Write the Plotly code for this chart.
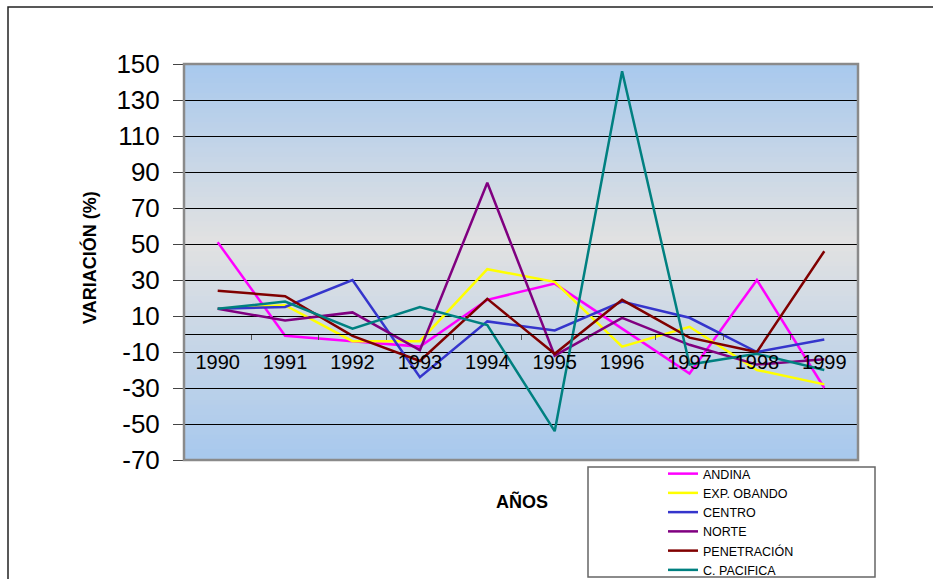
import plotly.graph_objects as go

# Data
years = ["1990", "1991", "1992", "1993", "1994", "1995", "1996", "1997", "1998", "1999"]
andina = [51, -1, -4, -7, 19, 28, 3, -22, 30, -30]
exp_obando = [14, 16, -4, -4, 36, 29, -7, 4, -20, -28]
centro = [14, 15, 30, -24, 7, 2, 18, 9, -10, -3]
norte = [14, 7.5, 12, -9, 84, -12, 9, -6, -17, -14]
penetracion = [24, 21, -1, -15, 19.5, -11, 19, -2, -10, 46]
c_pacifica = [14, 18, 3, 15, 5, -54, 146, -17, -11, -20]

# y tick values and labels (plain hyphen like the original)
y_ticks = [-70, -50, -30, -10, 10, 30, 50, 70, 90, 110, 130, 150]
y_labels = ["-70", "-50", "-30", "-10", "10", "30", "50", "70", "90", "110", "130", "150"]

series = [
    ("ANDINA", andina, "#FF00FF"),
    ("EXP. OBANDO", exp_obando, "#FFFF00"),
    ("CENTRO", centro, "#3535CC"),
    ("NORTE", norte, "#800080"),
    ("PENETRACIÓN", penetracion, "#800000"),
    ("C. PACIFICA", c_pacifica, "#008080"),
]

font = "Arial, Liberation Sans, sans-serif"
W, H = 933, 579
L, R, T, B = 184, 75, 64, 119
pw, ph = W - L - R, H - T - B


def px_x(x):
    return (x - L) / pw


def px_y(y):
    return (H - B - y) / ph


fig = go.Figure()
for name, vals, col in series:
    fig.add_trace(go.Scatter(x=years, y=vals, name=name, mode="lines",
                             line=dict(color=col, width=2.5)))

# background gradient (blue -> grey -> blue) as thin stripes
top, mid, bot = (168, 201, 238), (226, 226, 226), (168, 201, 238)
n = 80
shapes = []
for i in range(n):
    f = (i + 0.5) / n  # from top
    if f < 0.45:
        t = f / 0.45
        c = [a + (b - a) * t for a, b in zip(top, mid)]
    else:
        t = (f - 0.45) / 0.55
        c = [a + (b - a) * t for a, b in zip(mid, bot)]
    shapes.append(dict(type="rect", xref="paper", yref="paper", x0=0, x1=1,
                       y0=1 - (i + 1) / n, y1=1 - i / n + 0.002, layer="below",
                       line=dict(width=0),
                       fillcolor="rgb(%d,%d,%d)" % tuple(int(v) for v in c)))
# plot border
shapes.append(dict(type="rect", xref="paper", yref="paper", x0=0, x1=1, y0=0, y1=1,
                   line=dict(color="#8a8a8a", width=2.5), layer="above"))
# outer chart border
shapes.append(dict(type="rect", xref="paper", yref="paper",
                   x0=px_x(8), x1=px_x(945), y0=px_y(595), y1=px_y(7),
                   line=dict(color="#222222", width=1.5)))
# legend box
shapes.append(dict(type="rect", xref="paper", yref="paper",
                   x0=px_x(588), x1=px_x(875), y0=px_y(577), y1=px_y(467),
                   line=dict(color="#666666", width=1.5)))

fig.update_layout(
    width=W, height=H,
    margin=dict(l=L, r=R, t=T, b=B, autoexpand=False),
    paper_bgcolor="white",
    plot_bgcolor="#e2e2e2",
    font=dict(family=font, color="black"),
    shapes=shapes,
    legend=dict(x=px_x(663), y=px_y(459), xanchor="left", yanchor="top",
                font=dict(size=12.5, family=font), bgcolor="rgba(0,0,0,0)",
                tracegroupgap=0),
    annotations=[
        dict(text="<b>AÑOS</b>", x=px_x(522), y=px_y(502), xref="paper", yref="paper",
             xanchor="center", yanchor="middle", showarrow=False,
             font=dict(size=18, family=font)),
        dict(text="<b>VARIACIÓN (%)</b>", x=px_x(89), y=px_y(258), xref="paper",
             yref="paper", xanchor="center", yanchor="middle", showarrow=False,
             textangle=-90, font=dict(size=18, family=font)),
    ],
)

fig.update_xaxes(
    type="category", range=[-0.5, 9.5],
    anchor="free", position=70 / 220,
    showline=True, linecolor="black", linewidth=1,
    ticks="outside", tickson="boundaries", ticklen=5, tickcolor="#555555",
    ticklabelstandoff=10,
    showgrid=False, tickfont=dict(size=20, family=font),
)
fig.update_yaxes(
    range=[-70, 150], tickmode="array", tickvals=y_ticks, ticktext=y_labels,
    showgrid=True, gridcolor="black", gridwidth=1, zeroline=False,
    showline=True, linecolor="#444444", linewidth=1,
    ticks="outside", ticklen=10, tickcolor="#444444", ticklabelstandoff=8,
    tickfont=dict(size=26, family=font),
)

# page body has a default 8px margin; remove it so the figure fills the window
fig.write_html("out.html", config={"displayModeBar": False},
               post_script="document.body.style.margin='0';")
